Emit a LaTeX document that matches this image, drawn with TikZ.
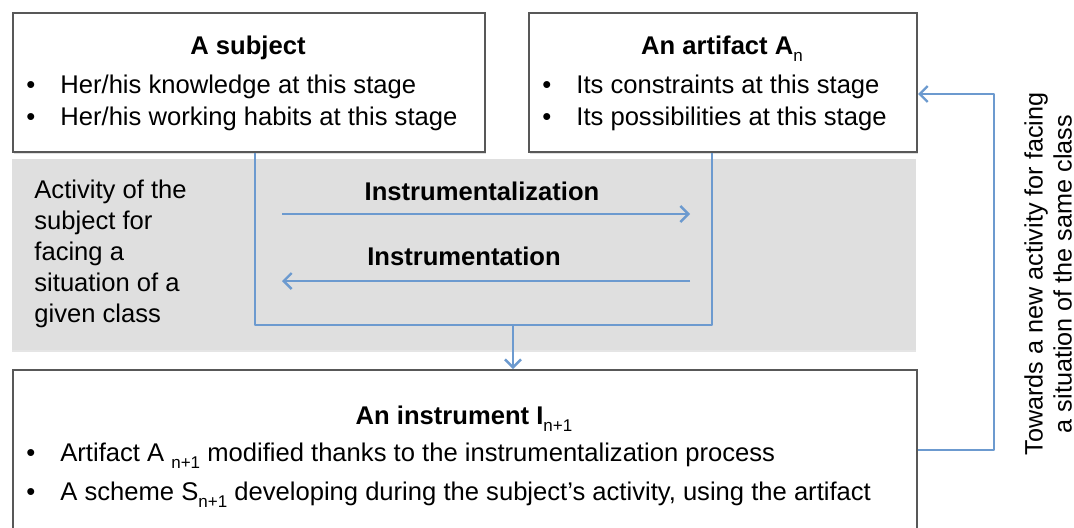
\documentclass[tikz,border=0pt]{standalone}
\usepackage{fontspec}
\setmainfont{Liberation Sans}
\usetikzlibrary{arrows.meta,shadows}

\definecolor{flowblue}{RGB}{108,154,207}
\definecolor{bandgray}{RGB}{223,223,223}
\definecolor{framegray}{RGB}{88,88,88}
\newcommand{\lowidx}[1]{\raisebox{-0.55ex}{\mdseries\fontsize{8.5}{9}\selectfont #1}}
\newcommand{\bul}{\makebox[17pt][l]{\textbullet}}

\begin{document}
\begin{tikzpicture}[x=0.5pt,y=-0.5pt,
    box/.style={draw=framegray,line width=1pt,fill=white,inner sep=0pt,anchor=north west,
        drop shadow={shadow xshift=0.6pt,shadow yshift=-0.9pt,opacity=0.25}},
    band/.style={fill=bandgray,inner sep=0pt,anchor=north west,
        drop shadow={shadow xshift=0pt,shadow yshift=-1pt,opacity=0.2}},
    txt/.style={inner sep=0pt,font=\fontsize{12.8}{15.5}\selectfont,
        text height=9.6pt,text depth=0.4pt},
    head/.style={txt,font=\fontsize{12.8}{15.5}\selectfont\bfseries},
    item/.style={txt,anchor=west},
    flow/.style={draw=flowblue,line width=1.2pt},
    tip/.style={-{Straight Barb[length=4pt,width=8pt]}}]
  \clip (0,0) rectangle (1074,527);
  \fill[white] (0,0) rectangle (1074,527);
  % shaded activity band and the three boxes
  \node[band,minimum width=452pt,minimum height=95.5pt] (band) at (12,159) {};
  \node[box,minimum width=236pt,minimum height=69.5pt] (subj) at (12,12) {};
  \node[box,minimum width=194pt,minimum height=69.5pt] (art) at (528,12) {};
  \node[box,minimum width=452pt,minimum height=90pt] (inst) at (12,369) {};
  % texts
  \node[head] (subjhead) at (248,45) {A subject};
  \node[item] (subj1) at (26,84) {\bul Her/his knowledge at this stage};
  \node[item] (subj2) at (26,116) {\bul Her/his working habits at this stage};
  \node[head] (arthead) at (722,45) {An artifact A\lowidx{n}};
  \node[item] (art1) at (542,84) {\bul Its constraints at this stage};
  \node[item] (art2) at (542,116) {\bul Its possibilities at this stage};
  \node[inner sep=0pt,anchor=north west,align=left,
        font=\fontsize{12.8}{15.5}\selectfont] (activity) at (34,180)
    {Activity of the\\subject for\\facing a\\situation of a\\given class};
  \node[head] (izlabel) at (482,191) {Instrumentalization};
  \node[head] (iolabel) at (464,256) {Instrumentation};
  \node[head] (insthead) at (464,415) {An instrument I\lowidx{n+1}};
  \node[item] (inst1) at (26,452) {\bul Artifact A \lowidx{n+1} modified thanks to the instrumentalization process};
  \node[item] (inst2) at (26,491) {\bul A scheme S\lowidx{n+1} developing during the subject’s activity, using the artifact};
  \node[inner sep=0pt,rotate=90,align=center,
        font=\fontsize{12.6}{14.5}\selectfont] (towards) at (1048,274)
    {Towards a new activity for facing\\a situation of the same class};
  % connectors
  \coordinate (uL) at (255,325);
  \coordinate (uR) at (712,325);
  \coordinate (uM) at (513,325);
  \coordinate (izL) at (282,214);
  \coordinate (izR) at (690,214);
  \coordinate (ioL) at (282,281);
  \coordinate (ioR) at (690,281);
  \coordinate (loopB) at (994,450);
  \coordinate (loopT) at (994,94);
  \draw[flow,line join=round] (subj.south -| uL) -- (uL) -- (uR) -- (art.south -| uR);
  \draw[flow,tip] (uM) -- (inst.north -| uM);
  \draw[flow,tip] (izL) -- (izR);
  \draw[flow,tip] (ioR) -- (ioL);
  \draw[flow,tip,line join=round] (inst.east |- loopB) -- (loopB) -- (loopT) -- (art.east |- loopT);
\end{tikzpicture}
\end{document}
